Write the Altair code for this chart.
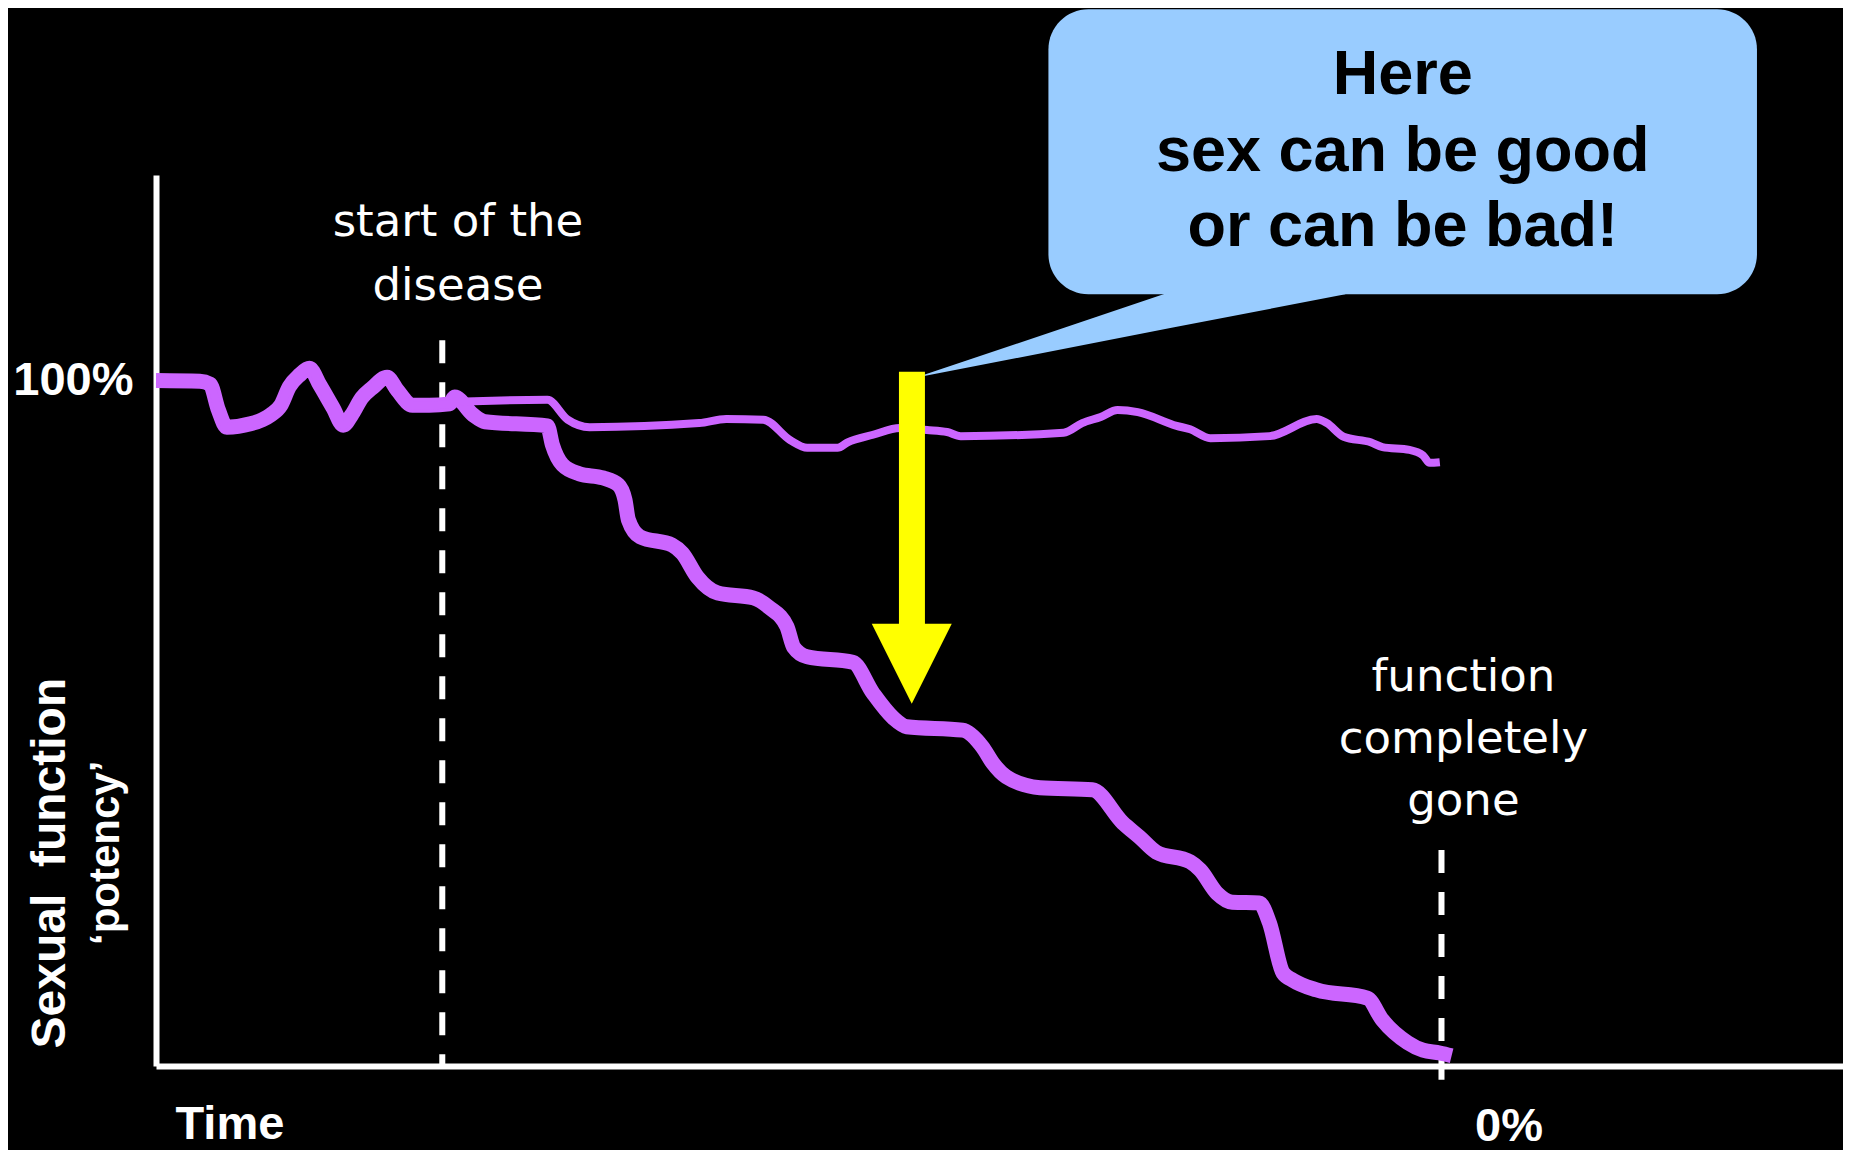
import altair as alt
import pandas as pd

# ---- data (time: 0..100, sexual function: 0..130 %, 100 % = healthy) ----
before_t = [0, 2.6, 3.2, 3.7, 4.2, 5.6, 6.3, 6.8, 7.4, 7.9, 8.5, 9.1, 9.7, 10.5, 11.1,
            11.6, 12.2, 12.8, 13.7, 14.3, 15.2, 16.2, 17.4]
before_v = [100, 99.9, 99.5, 95.7, 93.2, 93.7, 94.3, 95.0, 96.4, 99.1, 100.8, 101.8, 99.4,
            96.0, 93.5, 95.0, 97.5, 98.9, 100.5, 98.6, 96.4, 96.4, 96.6]

decline_t = [17.7, 18.8, 19.5, 23.2, 23.5, 24.1, 25.1, 26.5, 27.4, 27.8, 28.0, 28.7, 30.6,
             31.2, 32.1, 33.3, 35.4, 36.4, 37.4, 37.8, 38.6, 41.3, 42.5, 43.7, 44.5, 47.8,
             49.0, 49.6, 50.4, 52.4, 55.5, 57.3, 58.3, 59.3, 61.3, 61.9, 62.9, 63.8, 65.4,
             66.0, 66.8, 67.4, 68.8, 71.8, 72.7, 74.2, 75.1, 76.1, 76.8]
decline_v = [97.6, 95.0, 94.0, 93.4, 90.6, 87.7, 86.4, 85.8, 84.8, 82.6, 79.7, 77.2, 76.0,
             74.8, 71.3, 69.0, 68.3, 66.8, 64.1, 61.1, 59.7, 58.9, 54.4, 50.8, 49.5, 49.0,
             46.5, 44.2, 42.2, 40.6, 40.3, 35.5, 33.4, 31.2, 29.8, 28.6, 25.2, 23.9, 23.8,
             20.9, 13.6, 12.5, 11.1, 9.9, 6.7, 3.4, 2.3, 1.9, 1.5]

stable_t = [17.8, 23.2, 24.4, 25.7, 32.2, 33.8, 36.0, 37.6, 38.6, 40.4, 41.0, 42.5, 44.1,
            45.7, 46.9, 47.7, 53.8, 54.9, 56.0, 57.0, 58.2, 60.5, 61.3, 62.5, 66.0, 68.8,
            69.4, 70.4, 72.0, 72.7, 74.3, 75.1, 75.5, 76.1]
stable_v = [96.9, 97.2, 94.3, 93.2, 93.8, 94.4, 94.3, 91.3, 90.2, 90.2, 91.0, 92.1, 93.1,
            92.8, 92.5, 91.9, 92.4, 93.8, 94.7, 95.7, 95.4, 93.4, 92.9, 91.6, 91.9, 94.4,
            93.8, 91.8, 91.0, 90.3, 89.9, 89.1, 88.0, 88.1]

# dashed markers: start of disease / function gone
marker_t = [16.97, 76.2]
marker_top = [105.9, 31.5]
marker_bottom = [0, -2.0]

# yellow arrow
arrow_t = [44.04, 45.58]
arrow_v = [101.3, 64.0]
head_t = [44.8]
head_v = [58.7]

# speech bubble
bubble_t = [52.9, 94.9]
bubble_v = [112.6, 154.2]
tail_t = [45.0, 60.2, 70.5]
tail_top = [100.4, 113.0, 113.0]
tail_bottom = [100.4, 107.7, 112.6]

bubble_lines = ["Here", "sex can be good", "or can be bad!"]
bubble_line_t = [73.9, 73.9, 73.9]
bubble_line_v = [141.8, 130.6, 119.6]

note_lines = ["start of the", "disease", "function", "completely", "gone"]
note_t = [17.9, 17.9, 77.5, 77.5, 77.5]
note_v = [121.1, 111.8, 54.7, 45.7, 36.6]

zero_label = ["0%"]
zero_t = [80.2]
zero_v = [-10.9]

ytitle_lines = ["Sexual\u00a0 function", "\u2018potency\u2019"]
ytitle_t = [-5.39, -2.21]
ytitle_v = [29.6, 31.1]
ytitle_size = [48, 42]

# ---- tables ----
thick = pd.DataFrame({"t": before_t + decline_t, "v": before_v + decline_v})
thick["i"] = range(len(thick))
thin = pd.DataFrame({"t": before_t + stable_t, "v": before_v + stable_v})
thin["i"] = range(len(thin))
markers = pd.DataFrame({"t": marker_t, "top": marker_top, "bottom": marker_bottom})
shaft = pd.DataFrame({"t": [arrow_t[0]], "t2": [arrow_t[1]], "v": [arrow_v[0]], "v2": [arrow_v[1]]})
head = pd.DataFrame({"t": head_t, "v": head_v})
bubble = pd.DataFrame({"t": [bubble_t[0]], "t2": [bubble_t[1]], "v": [bubble_v[0]], "v2": [bubble_v[1]]})
tail = pd.DataFrame({"t": tail_t, "top": tail_top, "bottom": tail_bottom})
btext = pd.DataFrame({"text": bubble_lines, "t": bubble_line_t, "v": bubble_line_v})
notes = pd.DataFrame({"text": note_lines, "t": note_t, "v": note_v})
zero = pd.DataFrame({"text": zero_label, "t": zero_t, "v": zero_v})
ytitle = pd.DataFrame({"text": ytitle_lines, "t": ytitle_t, "v": ytitle_v, "s": ytitle_size})

XS = alt.Scale(domain=[0, 100], nice=False, zero=False)
YS = alt.Scale(domain=[0, 130], nice=False, zero=False)

PURPLE = "#CC66FF"

x_axis = alt.Axis(title="Time", labels=False, ticks=False, grid=False,
                  domainColor="white", domainWidth=6,
                  titleColor="white", titleFont="Liberation Sans", titleFontSize=47,
                  titleFontWeight="bold", titleAnchor="start", titleAlign="left",
                  titleBaseline="alphabetic", titleX=19, titleY=72)
y_axis = alt.Axis(title=None, values=[100], labelExpr="datum.value + '%'",
                  ticks=False, tickSize=0, grid=False,
                  domainColor="white", domainWidth=6,
                  labelColor="white", labelFont="Liberation Sans", labelFontSize=47,
                  labelFontWeight="bold", labelPadding=23)


def xq(field="t"):
    return alt.X(f"{field}:Q", scale=XS, axis=x_axis, title="Time")


def yq(field="v"):
    return alt.Y(f"{field}:Q", scale=YS, axis=y_axis, title=None)


bubble_box = alt.Chart(bubble).mark_rect(color="#99CCFF", cornerRadius=40).encode(
    x=xq(), x2="t2:Q", y=yq(), y2="v2:Q")

bubble_tail = alt.Chart(tail).mark_area(color="#99CCFF", interpolate="linear").encode(
    x=xq(), y=yq("top"), y2="bottom:Q")

dashes = alt.Chart(markers).mark_rule(color="white", strokeWidth=6, strokeDash=[23, 19]).encode(
    x=xq(), y=yq("top"), y2="bottom:Q")

thick_line = alt.Chart(thick).mark_line(color=PURPLE, strokeWidth=15, interpolate="monotone",
                                        strokeJoin="round").encode(
    x=xq(), y=yq(), order="i:Q")

thin_line = alt.Chart(thin).mark_line(color=PURPLE, strokeWidth=8, interpolate="monotone",
                                      strokeJoin="round").encode(
    x=xq(), y=yq(), order="i:Q")

arrow_shaft = alt.Chart(shaft).mark_rect(color="#FFFF00").encode(
    x=xq(), x2="t2:Q", y=yq(), y2="v2:Q")

arrow_head = alt.Chart(head).mark_point(shape="M-1,-1L1,-1L0,1Z", filled=True, size=6400,
                                        color="#FFFF00", opacity=1, strokeWidth=0).encode(
    x=xq(), y=yq())

bubble_words = alt.Chart(btext).mark_text(font="Liberation Sans", fontWeight="bold", fontSize=63,
                                          color="black", align="center",
                                          baseline="alphabetic").encode(
    x=xq(), y=yq(), text="text:N")

note_words = alt.Chart(notes).mark_text(font="DejaVu Sans", fontSize=45, color="white",
                                        align="center", baseline="alphabetic").encode(
    x=xq(), y=yq(), text="text:N")

zero_word = alt.Chart(zero).mark_text(font="Liberation Sans", fontWeight="bold", fontSize=47,
                                      color="white", align="center",
                                      baseline="alphabetic").encode(
    x=xq(), y=yq(), text="text:N")

ytitle_words = alt.Chart(ytitle).mark_text(font="Liberation Sans", fontWeight="bold",
                                           color="white", align="center", angle=270,
                                           baseline="alphabetic").encode(
    x=xq(), y=yq(), text="text:N", size=alt.Size("s:Q", scale=None, legend=None))

chart = alt.layer(
    bubble_box, bubble_tail, dashes, thick_line, thin_line, arrow_shaft, arrow_head,
    bubble_words, note_words, zero_word, ytitle_words
).properties(
    width=1687, height=891,
    padding={"left": 148, "top": 167, "right": 0, "bottom": 84},
    autosize=alt.AutoSizeParams(type="none"),
    background="black",
).configure_view(strokeWidth=0)

chart.save("out.html", embed_options={"renderer": "svg", "actions": False})
